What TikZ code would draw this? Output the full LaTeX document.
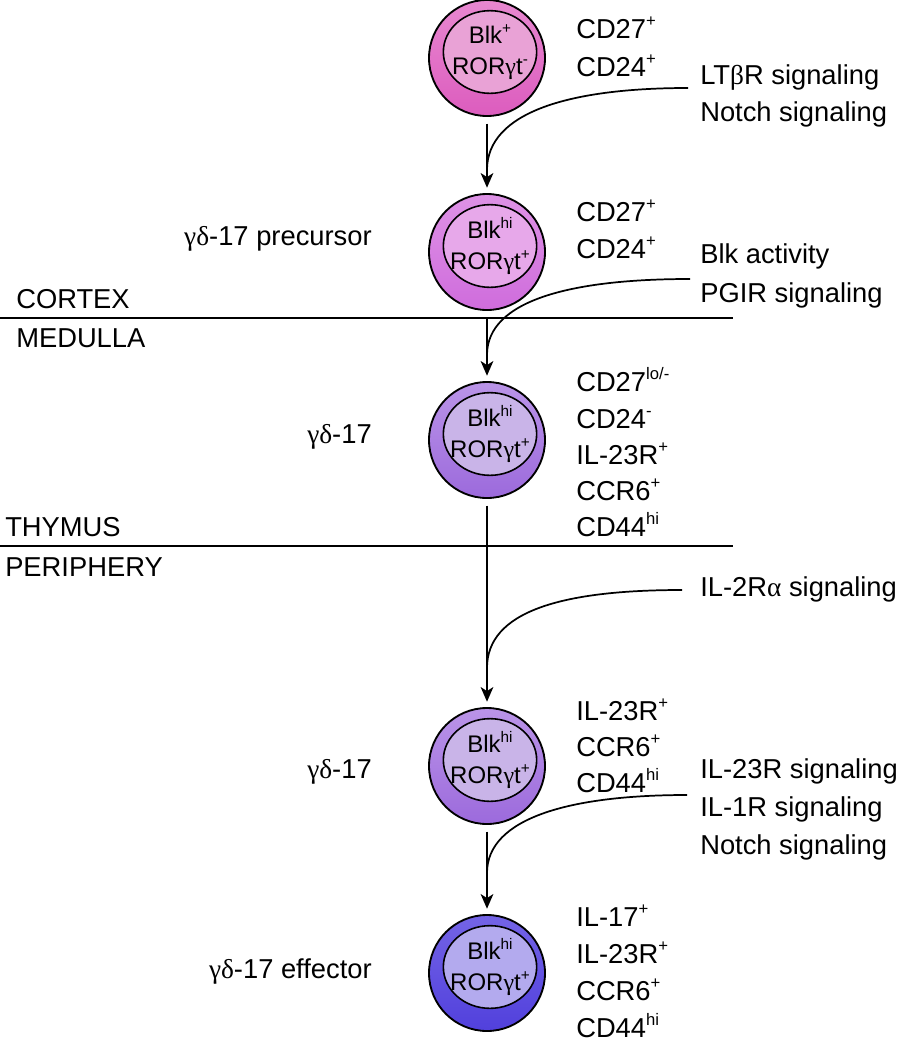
\documentclass[tikz,border=0pt]{standalone}
\usepackage{fontspec}
\setmainfont{Liberation Sans}
\newfontfamily\grkfont{Liberation Serif}
\usetikzlibrary{arrows.meta,shapes.geometric}
\newcommand\gk[1]{{\grkfont #1}}
\newcommand\upx[1]{\raisebox{0.42em}{\fontsize{12.5}{12.5}\selectfont #1}}
\newcommand\upc[1]{\raisebox{0.42em}{\fontsize{11.5}{11.5}\selectfont #1}}
\definecolor{o1t}{HTML}{E888D0}\definecolor{o1b}{HTML}{DC5CBE}\definecolor{i1}{HTML}{E9A2D6}
\definecolor{o2t}{HTML}{DE92E6}\definecolor{o2b}{HTML}{CF6CDC}\definecolor{i2}{HTML}{E7A8EA}
\definecolor{o3t}{HTML}{BA94E8}\definecolor{o3b}{HTML}{9C6ADC}\definecolor{i3}{HTML}{C9B4E8}
\definecolor{o5t}{HTML}{7464E6}\definecolor{o5b}{HTML}{5140DC}\definecolor{i5}{HTML}{B3AAEE}
\begin{document}
\begin{tikzpicture}[x=0.75pt,y=-0.75pt,
  outer/.style={circle,draw=black,line width=1.4pt,minimum size=87pt,inner sep=0pt},
  innercell/.style={ellipse,draw=black,line width=1.2pt,minimum width=70pt,minimum height=62pt,inner sep=0pt},
  celltext/.style={align=center,inner sep=0pt,font=\fontsize{18}{23}\selectfont},
  lab/.style={anchor=base west,inner sep=0pt,font=\fontsize{20.5}{24}\selectfont},
  llab/.style={anchor=base east,inner sep=0pt,font=\fontsize{20.5}{24}\selectfont},
  sep/.style={line width=1.3pt},
  flow/.style={line width=1.3pt,-{Stealth[length=11pt,width=9.5pt,inset=3pt]}},
  curv/.style={line width=1.3pt}]
\useasboundingbox (0,0) rectangle (899,1050);
% cells
\node[outer,top color=o1t,bottom color=o1b] (c1) at (487,58) {};
\node[innercell,fill=i1] (n1) at (490,52) {};
\node[celltext] (t1) at (n1) {Blk\upc{+}\\ROR\gk{γ}t\upc{-}};
\node[outer,top color=o2t,bottom color=o2b] (c2) at (487,252) {};
\node[innercell,fill=i2] (n2) at (490,246) {};
\node[celltext] (t2) at (n2) {Blk\upc{hi}\\ROR\gk{γ}t\upc{+}};
\node[outer,top color=o3t,bottom color=o3b] (c3) at (487,440) {};
\node[innercell,fill=i3] (n3) at (490,434) {};
\node[celltext] (t3) at (n3) {Blk\upc{hi}\\ROR\gk{γ}t\upc{+}};
\node[outer,top color=o3t,bottom color=o3b] (c4) at (487,766) {};
\node[innercell,fill=i3] (n4) at (490,760) {};
\node[celltext] (t4) at (n4) {Blk\upc{hi}\\ROR\gk{γ}t\upc{+}};
\node[outer,top color=o5t,bottom color=o5b] (c5) at (487,973) {};
\node[innercell,fill=i5] (n5) at (490,967) {};
\node[celltext] (t5) at (n5) {Blk\upc{hi}\\ROR\gk{γ}t\upc{+}};
% separators
\coordinate (l1a) at (0,318); \coordinate (l1b) at (733,318);
\coordinate (l2a) at (0,546); \coordinate (l2b) at (733,546);
\draw[sep] (l1a) -- (l1b);
\draw[sep] (l2a) -- (l2b);
\node[lab] (cortex) at (16,308) {CORTEX};
\node[lab] (medulla) at (16,347) {MEDULLA};
\node[lab] (thymus) at (5,536) {THYMUS};
\node[lab] (periph) at (5,576) {PERIPHERY};
% left labels
\node[llab] (p2) at (372,245) {\gk{γδ}-17 precursor};
\node[llab] (p3) at (372,443) {\gk{γδ}-17};
\node[llab] (p4) at (372,778) {\gk{γδ}-17};
\node[llab] (p5) at (372,978) {\gk{γδ}-17 effector};
% right marker labels
\node[lab] (m11) at (576,38) {CD27\upx{+}};
\node[lab] (m12) at (576,76) {CD24\upx{+}};
\node[lab] (m21) at (576,221) {CD27\upx{+}};
\node[lab] (m22) at (576,258) {CD24\upx{+}};
\node[lab] (m31) at (576,391) {CD27\upx{lo/-}};
\node[lab] (m32) at (576,428) {CD24\upx{-}};
\node[lab] (m33) at (576,464) {IL-23R\upx{+}};
\node[lab] (m34) at (576,500) {CCR6\upx{+}};
\node[lab] (m35) at (576,536) {CD44\upx{hi}};
\node[lab] (m41) at (576,720) {IL-23R\upx{+}};
\node[lab] (m42) at (576,756) {CCR6\upx{+}};
\node[lab] (m43) at (576,792) {CD44\upx{hi}};
\node[lab] (m51) at (576,926) {IL-17\upx{+}};
\node[lab] (m52) at (576,963) {IL-23R\upx{+}};
\node[lab] (m53) at (576,1000) {CCR6\upx{+}};
\node[lab] (m54) at (576,1037) {CD44\upx{hi}};
% signal labels
\node[lab] (s11) at (700,84) {LT\gk{β}R signaling};
\node[lab] (s12) at (700,121) {Notch signaling};
\node[lab] (s21) at (700,263) {Blk activity};
\node[lab] (s22) at (700,302) {PGIR signaling};
\node[lab] (s31) at (700,596) {IL-2R\gk{α} signaling};
\node[lab] (s41) at (700,778) {IL-23R signaling};
\node[lab] (s42) at (700,816) {IL-1R signaling};
\node[lab] (s43) at (700,854) {Notch signaling};
% arrows
\draw[flow,shorten <=5pt,shorten >=4pt] (c1) -- (c2);
\draw[flow,shorten <=5pt,shorten >=4pt] (c2) -- (c3);
\draw[flow,shorten <=5pt,shorten >=4pt] (c3) -- (c4);
\draw[flow,shorten <=5pt,shorten >=4pt] (c4) -- (c5);
\coordinate (a1) at (688,88);  \coordinate (j1) at (487,170);
\coordinate (a2) at (690,279); \coordinate (j2) at (487,355);
\coordinate (a3) at (682,590); \coordinate (j3) at (487,668);
\coordinate (a4) at (687,795); \coordinate (j4) at (487,873);
\draw[curv] (a1) .. controls (570,88) and (487,112) .. (j1);
\draw[curv] (a2) .. controls (572,279) and (487,300) .. (j2);
\draw[curv] (a3) .. controls (560,590) and (487,612) .. (j3);
\draw[curv] (a4) .. controls (570,795) and (487,818) .. (j4);
\end{tikzpicture}
\end{document}
